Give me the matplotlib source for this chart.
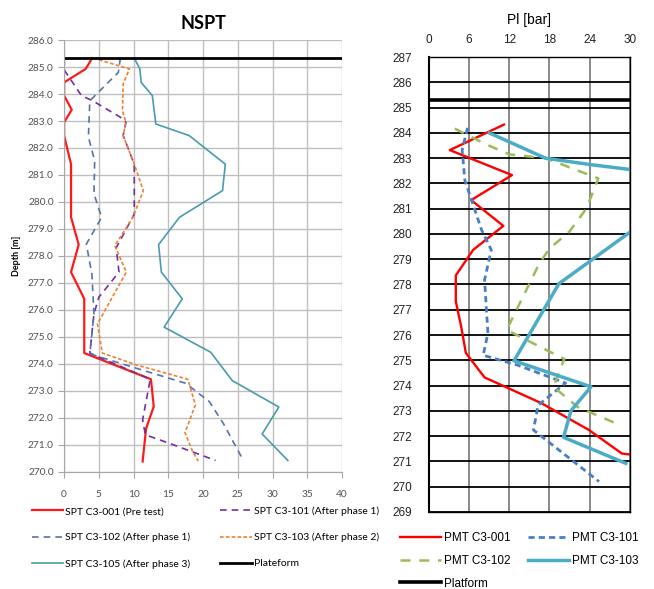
"""NSPT and pressuremeter limit pressure profiles versus depth."""

import matplotlib

matplotlib.use("Agg")
import matplotlib.pyplot as plt
from matplotlib.ticker import FormatStrFormatter, MultipleLocator

# ---- SPT data (N value, elevation in m) ----
spt_001_n = [4.05, 3.1, 0.0, 0.0, 1.1, 0.0, 0.0, 1.0, 1.0, 2.1, 1.0, 2.9, 2.9, 12.5, 12.9, 11.8, 11.3]
spt_001_z = [285.33, 284.93, 284.43, 283.94, 283.42, 282.95, 282.46, 281.4, 279.43, 278.42, 277.4,
             276.41, 274.4, 273.43, 272.42, 271.6, 270.38]

spt_101_n = [0.0, 0.1, 2.5, 4.1, 8.1, 8.9, 8.5, 10.1, 10.1, 7.5, 7.9, 5.0, 4.3, 3.7, 12.4, 11.3,
             11.7, 15.1, 21.8]
spt_101_z = [285.33, 284.86, 283.94, 283.75, 283.14, 282.95, 282.46, 281.4, 279.55, 278.3, 277.4,
             276.47, 275.85, 274.4, 273.43, 271.93, 271.37, 271.06, 270.42]

spt_102_n = [8.1, 7.8, 3.7, 3.5, 4.4, 4.3, 5.4, 3.2, 4.0, 4.3, 3.7, 11.5, 17.5, 20.9, 22.9, 25.8]
spt_102_z = [285.33, 284.8, 283.75, 282.4, 281.53, 280.3, 279.43, 278.44, 277.33, 275.85, 274.37,
             273.75, 273.28, 272.6, 271.8, 270.42]

spt_103_n = [4.2, 9.4, 8.5, 8.4, 8.9, 8.5, 10.1, 11.4, 9.9, 7.3, 8.95, 4.8, 5.5, 10.4, 17.8, 18.9,
             17.4, 18.5, 19.3]
spt_103_z = [285.33, 284.93, 284.37, 283.38, 282.95, 282.46, 281.4, 280.42, 279.43, 278.38, 277.4,
             275.48, 274.4, 273.96, 273.43, 272.48, 271.45, 270.75, 270.4]

spt_105_n = [10.1, 10.9, 11.1, 12.7, 13.2, 18.0, 23.2, 22.8, 16.6, 13.6, 14.0, 17.0, 14.4, 21.1,
             24.2, 30.9, 28.5, 32.2]
spt_105_z = [285.33, 284.93, 284.43, 283.94, 282.89, 282.46, 281.4, 280.42, 279.43, 278.42, 277.4,
             276.41, 275.36, 274.43, 273.38, 272.4, 271.4, 270.42]

spt_platform_z = 285.35

# ---- PMT data (limit pressure Pl in bar, elevation in m) ----
pmt_001_pl = [11.2, 3.1, 12.4, 6.3, 11.1, 6.6, 4.0, 4.0, 4.8, 5.5, 8.3, 16.8, 23.9, 28.8, 30.3]
pmt_001_z = [284.33, 283.32, 282.33, 281.34, 280.32, 279.37, 278.36, 277.33, 276.34, 275.29,
             274.32, 273.3, 272.24, 271.31, 271.26]

pmt_101_pl = [5.75, 4.95, 5.35, 6.35, 7.85, 9.3, 8.3, 8.8, 8.1, 13.3, 20.4, 16.3, 15.6, 25.4]
pmt_101_z = [284.2, 283.32, 282.13, 281.34, 280.16, 279.37, 278.18, 276.08, 275.2, 274.8, 274.1,
             273.22, 272.24, 270.2]

pmt_102_pl = [3.85, 8.5, 12.0, 17.4, 25.3, 23.5, 21.0, 18.0, 16.5, 11.6, 20.2, 18.6, 22.2, 28.4]
pmt_102_z = [284.17, 283.55, 283.15, 283.0, 282.2, 281.0, 280.1, 279.42, 278.84, 276.2, 275.05,
             273.95, 273.15, 272.45]

pmt_103_pl = [9.0, 17.4, 24.0, 31.0, 31.0, 24.3, 19.4, 12.7, 24.2, 21.2, 20.1, 29.4]
pmt_103_z = [284.0, 283.0, 282.75, 282.52, 280.26, 278.97, 278.03, 274.98, 273.95, 273.0, 271.95,
             270.92]

pmt_platform_z = 285.3

fig = plt.figure(figsize=(6.54, 5.89), dpi=100)

# ---------------- Left: NSPT ----------------
left_font = "Lato"
axl = fig.add_axes([0.098, 0.199, 0.425, 0.733])
grid_grey = "#BFBFBF"
axl.plot(spt_001_n, spt_001_z, color="#FF1A1A", lw=1.6, label="SPT C3-001 (Pre test)")
axl.plot(spt_101_n, spt_101_z, color="#7030A0", lw=1.2, dashes=(4, 3),
         label="SPT C3-101 (After phase 1)")
axl.plot(spt_102_n, spt_102_z, color="#5674A8", lw=1.2, dashes=(4, 3),
         label="SPT C3-102 (After phase 1)")
axl.plot(spt_103_n, spt_103_z, color="#F08030", lw=1.2, dashes=(2.2, 1.3),
         label="SPT C3-103 (After phase 2)")
axl.plot(spt_105_n, spt_105_z, color="#4A9BAB", lw=1.2, label="SPT C3-105 (After phase 3)")
axl.axhline(spt_platform_z, color="black", lw=2.0, label="Plateform")

axl.set_xlim(0, 40)
axl.set_ylim(270, 286)
axl.xaxis.set_major_locator(MultipleLocator(5))
axl.yaxis.set_major_locator(MultipleLocator(1))
axl.yaxis.set_major_formatter(FormatStrFormatter("%.1f"))
axl.grid(True, color=grid_grey, lw=1.0)
axl.set_axisbelow(True)
for side in ("top", "right"):
    axl.spines[side].set_visible(False)
for side in ("left", "bottom"):
    axl.spines[side].set_color("#A6A6A6")
axl.tick_params(axis="both", colors="#A6A6A6", length=4, labelcolor="#505050", labelsize=7.3)
axl.tick_params(axis="x", pad=9)
for lab in axl.get_xticklabels() + axl.get_yticklabels():
    lab.set_fontfamily(left_font)
axl.set_title("NSPT", fontsize=13, fontweight="bold", family=left_font, pad=8)
axl.set_ylabel("Depth [m]", fontsize=6.5, fontweight="bold", family=left_font, labelpad=5)

h = {l.get_label(): l for l in axl.get_lines()}
left_order = ["SPT C3-001 (Pre test)", "SPT C3-102 (After phase 1)", "SPT C3-105 (After phase 3)",
              "SPT C3-101 (After phase 1)", "SPT C3-103 (After phase 2)", "Plateform"]
fig.legend([h[k] for k in left_order], left_order, loc="upper left",
           bbox_to_anchor=(0.042, 0.147), ncol=2, frameon=False,
           prop={"family": left_font, "size": 7.5}, handlelength=3.0, handletextpad=0.2,
           labelspacing=1.6, columnspacing=2.9, borderaxespad=0)

# ---------------- Right: PMT ----------------
right_font = "Liberation Sans"
axr = fig.add_axes([0.656, 0.131, 0.307, 0.772])
axr.plot(pmt_001_pl, pmt_001_z, color="#FF0000", lw=1.7, label="PMT C3-001")
axr.plot(pmt_101_pl, pmt_101_z, color="#4A7EC4", lw=2.0, dashes=(2.2, 1.5), label="PMT C3-101")
axr.plot(pmt_102_pl, pmt_102_z, color="#9BBB59", lw=1.8, dashes=(4, 3.5), label="PMT C3-102")
axr.plot(pmt_103_pl, pmt_103_z, color="#4BACC6", lw=2.5, label="PMT C3-103")
axr.axhline(pmt_platform_z, color="black", lw=2.6, label="Platform")

axr.set_xlim(0, 30)
axr.set_ylim(269, 287)
axr.xaxis.set_major_locator(MultipleLocator(6))
axr.yaxis.set_major_locator(MultipleLocator(1))
axr.xaxis.tick_top()
axr.xaxis.set_label_position("top")
axr.grid(True, axis="y", color="black", lw=1.3)
axr.grid(True, axis="x", color="#808080", lw=1.3)
axr.set_axisbelow(True)
for side in axr.spines:
    axr.spines[side].set_color("black")
    axr.spines[side].set_linewidth(1.0)
axr.spines["left"].set_linewidth(1.5)
axr.tick_params(axis="both", length=0, labelsize=8.5, labelcolor="#222222")
axr.tick_params(axis="x", pad=8)
axr.tick_params(axis="y", pad=12)
for lab in axr.get_xticklabels() + axr.get_yticklabels():
    lab.set_fontfamily(right_font)
axr.set_xlabel("Pl [bar]", fontsize=10, family=right_font, labelpad=7)

hr = {l.get_label(): l for l in axr.get_lines()}
right_order = ["PMT C3-001", "PMT C3-102", "Platform", "PMT C3-101", "PMT C3-103"]
fig.legend([hr[k] for k in right_order], right_order, loc="upper left",
           bbox_to_anchor=(0.605, 0.105), ncol=2, frameon=False,
           prop={"family": right_font, "size": 8.5}, handlelength=3.4, handletextpad=0.3,
           labelspacing=0.92, columnspacing=1.5, borderaxespad=0)

fig.savefig("out.png", dpi=100)
